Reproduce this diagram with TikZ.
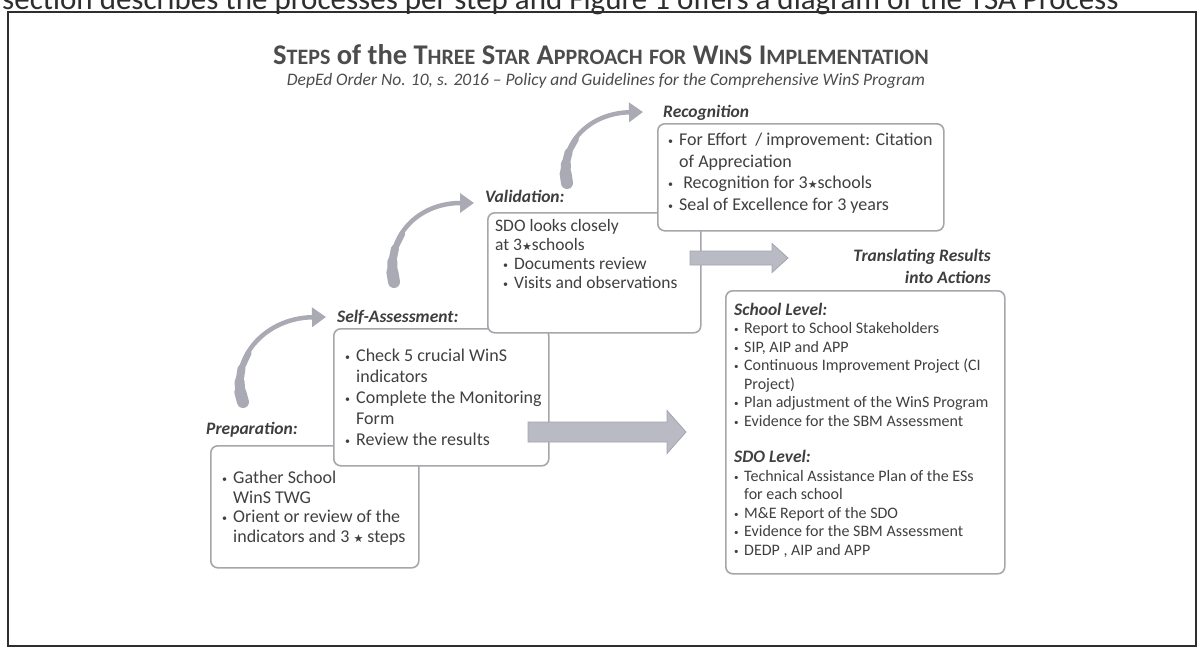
\documentclass[tikz,border=0pt]{standalone}
\usepackage{fontspec}
\setmainfont{Carlito}
\newfontfamily\symfont{DejaVu Sans}
\usetikzlibrary{arrows.meta}

\definecolor{txt}{HTML}{404040}
\definecolor{lbl}{HTML}{3E3E3E}
\definecolor{ttl}{HTML}{4C4C4C}
\definecolor{boxline}{HTML}{A6A6AC}
\definecolor{arrowfill}{HTML}{B9BAC3}
\definecolor{arrowline}{HTML}{A4A5AE}
\definecolor{bendc}{HTML}{A9AAB4}
\definecolor{framec}{HTML}{2E2E2E}

\newcommand\bstar{{\symfont\fontsize{11}{11}\selectfont ★}}
\newcommand\smc[1]{{\fontsize{22}{22}\selectfont #1}}
\newcommand\bul{\makebox[11pt][l]{\raisebox{1pt}{\fontsize{10}{10}\selectfont\textbullet}}}
\newcommand\ind{\hspace*{11pt}}
\newcommand\rbul{\makebox[10pt][l]{\raisebox{1pt}{\fontsize{9}{9}\selectfont\textbullet}}}
\newcommand\rind{\hspace*{10pt}}

\newcommand\bentarrow[5]{%
  \path #2 .. controls #3 and #4 .. #5
    coordinate[pos=0.08] (#1-a) coordinate[pos=0.17] (#1-b)
    coordinate[pos=0.28] (#1-c) coordinate[pos=0.42] (#1-d);
  \draw[bendarrow, line width=4.5pt, -{Triangle[length=14pt,width=19pt]}] #2 .. controls #3 and #4 .. #5;
  \draw[bendarrow, line width=12pt, line cap=round] #2 -- (#1-a);
  \draw[bendarrow, line width=10pt, line cap=round] (#1-a) -- (#1-b);
  \draw[bendarrow, line width=8pt, line cap=round] (#1-b) -- (#1-c);
  \draw[bendarrow, line width=6pt, line cap=round] (#1-c) -- (#1-d);
}

% name, tail x, tip x, y, half shaft, half head, head length
\newcommand\blockarrow[7]{%
  \coordinate (#1-tail) at (#2,#4);
  \coordinate (#1-tip) at (#3,#4);
  \filldraw[blockarrowstyle] (#2,#4-#5) -- (#3-#7,#4-#5) -- (#3-#7,#4-#6) -- (#1-tip)
    -- (#3-#7,#4+#6) -- (#3-#7,#4+#5) -- (#2,#4+#5) -- cycle;
}

\tikzset{
  stepbox/.style={draw=boxline, line width=1.6pt, rounded corners=7pt, fill=white, inner sep=0pt, anchor=north west},
  boxtext/.style={align=left, inner sep=0pt, text=txt},
  steplabel/.style={font=\fontsize{17.5}{17.5}\selectfont\bfseries\itshape, text=lbl, inner sep=0pt},
  bendarrow/.style={draw=bendc, color=bendc},
  blockarrowstyle/.style={fill=arrowfill, draw=arrowline, line width=0.8pt, line join=miter},
}

\begin{document}
\begin{tikzpicture}[x=1pt,y=-1pt]
\useasboundingbox (0,0) rectangle (1199,648);
\fill[white] (0,0) rectangle (1199,648);

% text line of the page above the figure (cut off at the top)
\node[anchor=base west, font=\fontsize{31}{31}\selectfont, text=framec, inner sep=0pt] (pageline) at (2,9)
  {section describes the processes per step and Figure 1 offers a diagram of the TSA Process};

% frame
\draw[framec, line width=1.6pt] (8,12) rectangle (1196,646);

% title
\node[font=\fontsize{28.5}{28.5}\selectfont\bfseries, text=ttl, inner sep=0pt] (title) at (601,55)
  {S\smc{TEPS} of the T\smc{HREE} S\smc{TAR} A\smc{PPROACH} \smc{FOR} W\smc{IN}S I\smc{MPLEMENTATION}};
\node[font=\fontsize{17.5}{17.5}\selectfont\itshape, text=ttl, inner sep=0pt] (subtitle) at (606,81)
  {DepEd Order No. 10, s. 2016 -- Policy and Guidelines for the Comprehensive WinS Program};

% Preparation
\node[stepbox, minimum width=208pt, minimum height=122pt] (prep) at (210,445) {};
\node[boxtext, anchor=west, font=\fontsize{18}{19.5}\selectfont] (preptext) at (222,508)
  {\bul Gather School\\ \ind WinS TWG\\ \bul Orient or review of the\\ \ind indicators and 3 \bstar{} steps};
\node[steplabel, anchor=west] (lblprep) at (206,430) {Preparation:};

% Self-Assessment
\node[stepbox, minimum width=215pt, minimum height=137pt] (self) at (333,328) {};
\node[boxtext, anchor=west, font=\fontsize{18}{21}\selectfont] (selftext) at (345,397)
  {\bul Check 5 crucial WinS\\ \ind indicators\\ \bul Complete the Monitoring\\ \ind Form\\ \bul Review the results};
\node[steplabel, anchor=west] (lblself) at (337,317) {Self-Assessment:};

% lower block arrow (self-assessment results)
\blockarrow{arrlow}{528}{686}{432}{10}{21.5}{19}

% Validation
\node[stepbox, minimum width=213pt, minimum height=120pt] (val) at (487,212) {};
\node[boxtext, anchor=north west, font=\fontsize{17.5}{19}\selectfont] (valtext) at (495,219)
  {SDO looks closely\\ at 3\bstar schools\\ \hspace*{8pt}\bul Documents review\\ \hspace*{8pt}\bul Visits and observations};
\node[steplabel, anchor=west] (lblval) at (485,196) {Validation:};

% Recognition
\node[stepbox, minimum width=286pt, minimum height=107pt] (rec) at (657,123) {};
\node[boxtext, anchor=west, font=\fontsize{18}{21.5}\selectfont] (rectext) at (668,173)
  {\bul For Effort \ / improvement: Citation\\ \ind of Appreciation\\ \bul\ Recognition for 3\bstar schools\\ \bul Seal of Excellence for 3 years};
\node[steplabel, anchor=west] (lblrec) at (663,113) {Recognition};

% upper block arrow (validation results)
\blockarrow{arrup}{690}{788}{258}{7}{14.5}{16}

% Translating results
\node[steplabel, anchor=east, align=right, font=\fontsize{17.5}{22}\selectfont\bfseries\itshape] (lblres) at (991,266)
  {Translating Results\\ into Actions};
\node[stepbox, minimum width=279pt, minimum height=283pt] (res) at (725,290) {};
\node[boxtext, anchor=north west, font=\fontsize{16}{18.5}\selectfont] (restxt) at (734,303)
  {{\fontsize{17.5}{17.5}\selectfont\bfseries\itshape School Level:}\\
   \rbul Report to School Stakeholders\\
   \rbul SIP, AIP and APP\\
   \rbul Continuous Improvement Project (CI\\
   \rind Project)\\
   \rbul Plan adjustment of the WinS Program\\
   \rbul Evidence for the SBM Assessment\\[18pt]
   {\fontsize{17.5}{17.5}\selectfont\bfseries\itshape SDO Level:}\\
   \rbul Technical Assistance Plan of the ESs\\
   \rind for each school\\
   \rbul M\&E Report of the SDO\\
   \rbul Evidence for the SBM Assessment\\
   \rbul DEDP , AIP and APP};

% curved arrows between the steps
\bentarrow{bprep}{(243,402)}{(228,362)}{(262,318)}{(326,317)}
\bentarrow{bself}{(394,282)}{(384,240)}{(415,203)}{(474,203)}
\bentarrow{bval}{(567,183)}{(558,143)}{(590,113)}{(643,112)}

\end{tikzpicture}
\end{document}
